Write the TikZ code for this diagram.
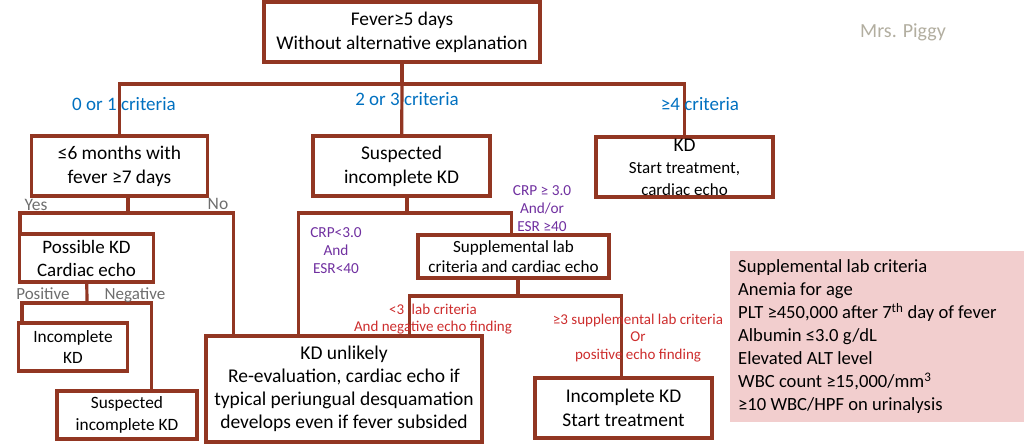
\documentclass[tikz,border=0pt]{standalone}
\usepackage{fontspec}
\setmainfont{Carlito}
\definecolor{brn}{RGB}{146,54,34}
\definecolor{blu}{RGB}{0,112,192}
\definecolor{pur}{RGB}{112,48,160}
\definecolor{rd}{RGB}{205,45,45}
\definecolor{pnk}{RGB}{242,206,206}
\definecolor{gry}{RGB}{110,110,110}
\definecolor{sig}{RGB}{178,174,160}
\begin{document}
\begin{tikzpicture}[x=1pt,y=-1pt,
				box/.style={draw=brn,line width=3.2pt,fill=white,align=center,inner sep=0pt},
				link/.style={draw=brn,line width=3.2pt},
				crit/.style={text=blu,font=\fontsize{19}{22}\selectfont},
				yn/.style={text=gry,font=\fontsize{17.5}{20}\selectfont},
				lab/.style={text=pur,align=center,font=\fontsize{15.3}{18}\selectfont},
				echo/.style={text=rd,align=center,font=\fontsize{15}{17.5}\selectfont}]
\useasboundingbox (0,0) rectangle (1024,447);
\node[box,minimum width=276,minimum height=60,font=\fontsize{19.4}{24}\selectfont] (fever) at (402,32) {Fever≥5 days\\Without alternative explanation};
\node[box,minimum width=176,minimum height=60,font=\fontsize{19.4}{24}\selectfont] (six) at (119.5,166) {≤6 months with\\fever ≥7 days};
\node[box,minimum width=177,minimum height=60,font=\fontsize{19.4}{24}\selectfont] (susp) at (401.5,166) {Suspected\\incomplete KD};
\node[box,minimum width=177,minimum height=60,font=\fontsize{19.4}{22}\selectfont] (kd) at (684.5,167) {KD\\\fontsize{17}{20.5}\selectfont Start treatment,\\\fontsize{17}{20.5}\selectfont cardiac echo};
\node[box,minimum width=134,minimum height=48,font=\fontsize{19}{23}\selectfont] (poskd) at (86.5,258) {Possible KD\\Cardiac echo};
\node[box,minimum width=109,minimum height=48,font=\fontsize{17.3}{21}\selectfont] (inc) at (73,347) {Incomplete\\KD};
\node[box,minimum width=140,minimum height=48,font=\fontsize{17.3}{22}\selectfont] (susp2) at (127,415) {Suspected\\incomplete KD};
\node[box,minimum width=276,minimum height=106,font=\fontsize{19.5}{23}\selectfont] (unl) at (344,389) {KD unlikely\\Re-evaluation, cardiac echo if\\typical periungual desquamation\\develops even if fever subsided};
\node[box,minimum width=191,minimum height=43,font=\fontsize{17.1}{20}\selectfont] (supp) at (513.5,256.5) {Supplemental lab\\criteria and cardiac echo};
\node[box,minimum width=177,minimum height=60,font=\fontsize{19.4}{24}\selectfont] (inst) at (623.5,408) {Incomplete KD\\Start treatment};
\coordinate (j1) at (402,84);
\coordinate (j2) at (128,213);
\coordinate (j3) at (87,303);
\coordinate (j4) at (407,213);
\coordinate (j5) at (518,296);
\draw[link] (fever) -- (j1);
\draw[link] (six) |- (j1) -| (kd);
\draw[link] (j1) -- (susp);
\draw[link] (six.south -| j2) -- (j2);
\draw[link] (j2) -| ([xshift=2pt]poskd.north west);
\draw[link] (j2) -| ([xshift=29pt]unl.north west);
\draw[link] (poskd) -- (j3);
\draw[link] (j3) -| ([xshift=5pt]inc.north west);
\draw[link] (j3) -| ([xshift=96pt]susp2.north west);
\draw[link] (susp.south -| j4) -- (j4);
\draw[link] (j4) -| ([xshift=94pt]unl.north west);
\draw[link] (j4) -| ([xshift=95pt]supp.north west);
\draw[link] (supp.south -| j5) -- (j5);
\draw[link] (j5) -| ([xshift=205pt]unl.north west);
\draw[link] (j5) -| ([xshift=88pt]inst.north west);
\node[crit] (c01) at (124,104) {0 or 1 criteria};
\node[crit] (c23) at (407,99) {2 or 3 criteria};
\node[crit] (c4) at (700,104) {≥4 criteria};
\node[yn] (yes) at (36,205) {Yes};
\node[yn] (no) at (218,204) {No};
\node[yn,font=\fontsize{17}{20}\selectfont] (pos) at (43,294) {Positive};
\node[yn,font=\fontsize{17}{20}\selectfont] (neg) at (135,295) {Negative};
\node[lab] (low) at (336,251) {CRP<3.0\\And\\ESR<40};
\node[lab] (high) at (542,209) {CRP ≥ 3.0\\And/or\\ESR ≥40};
\node[echo] (neg3) at (433,319) {<3\enspace lab criteria\\And negative echo finding};
\node[echo] (pos3) at (638,338) {≥3 supplemental lab criteria\\Or\\positive echo finding};
\node[fill=pnk,minimum width=294,minimum height=171,anchor=north west] (crit) at (730,251) {};
\node[anchor=west,align=left,inner sep=0pt,font=\fontsize{18.6}{23}\selectfont] (critxt) at (738,337) {Supplemental lab criteria\\Anemia for age\\PLT ≥450,000 after 7\textsuperscript{th} day of fever\\Albumin ≤3.0 g/dL\\Elevated ALT level\\WBC count ≥15,000/mm\textsuperscript{3}\\≥10 WBC/HPF on urinalysis};
\node[text=sig,font=\fontsize{20}{23}\selectfont] (sign) at (903,32) {Mrs. Piggy};
\end{tikzpicture}
\end{document}
